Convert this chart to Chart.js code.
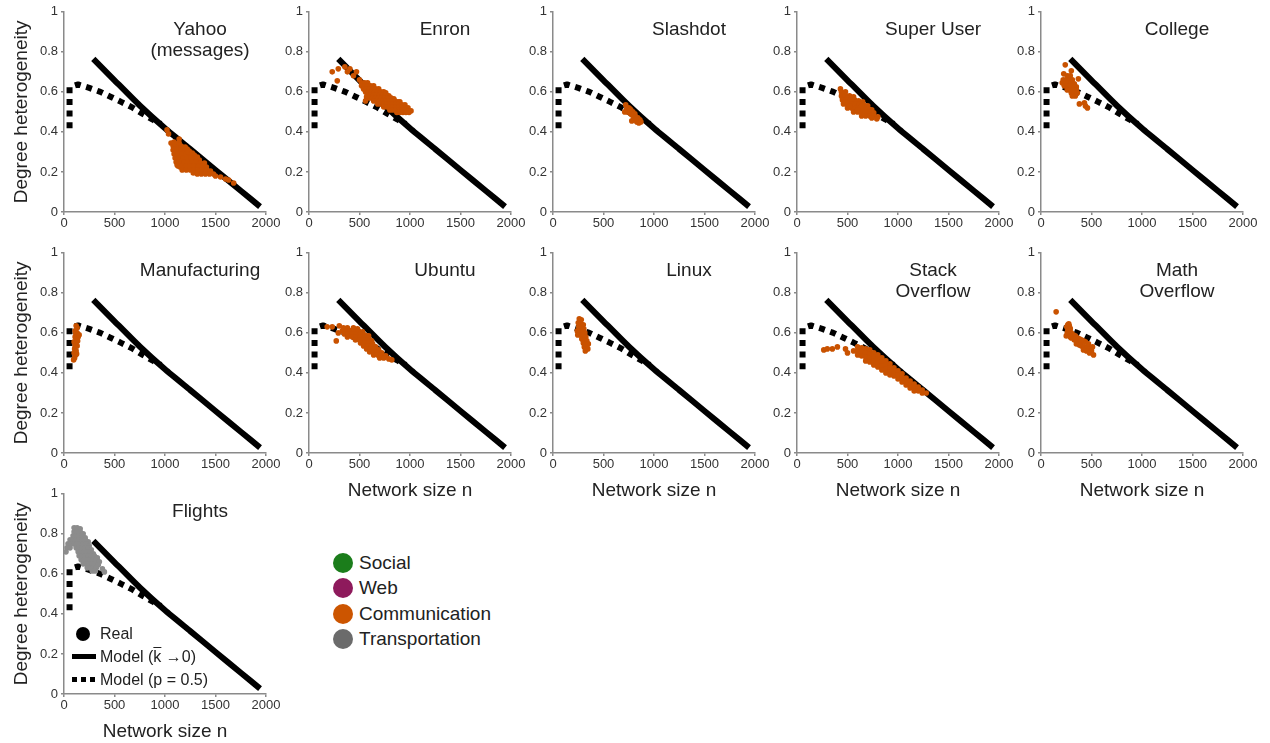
<!DOCTYPE html>
<html>
<head>
<meta charset="utf-8">
<script src="https://cdn.jsdelivr.net/npm/chart.js@4.4.0/dist/chart.umd.min.js"></script>
<style>
  body { margin: 0; background: #fff; width: 1270px; height: 743px; position: relative; overflow: hidden;
         font-family: "Liberation Sans", Arial, sans-serif; color: #222; }
  canvas { position: absolute; }
  .lg { position: absolute; white-space: nowrap; }
  .dot { position: absolute; border-radius: 50%; }
</style>
</head>
<body>
<script>
// ticks
const xTicks = [0, 500, 1000, 1500, 2000];
const yTicks = [0, 0.2, 0.4, 0.6, 0.8, 1];

// model curves [n, heterogeneity]
const modelFlat = [[290,0.765],[500,0.658],[750,0.532],[1000,0.418],[1250,0.314],[1500,0.21],[1750,0.106],[1941,0.027]];
const modelHalf = [[55,0.418],[55,0.6235],[140,0.637],[250,0.62],[360,0.6],[460,0.576],[570,0.549],[680,0.521],[780,0.49],[880,0.461],[960,0.44]];

// real networks
const yahoo = [
  [1020,0.41],[1035,0.39],[1140,0.365],[1090,0.35],[1060,0.345],
  [1080,0.33],[1120,0.33],[1160,0.33],[1200,0.325],[1100,0.34],[1140,0.345],
  [1080,0.31],[1120,0.31],[1160,0.31],[1200,0.31],[1240,0.305],[1180,0.32],[1220,0.315],
  [1090,0.29],[1130,0.29],[1170,0.29],[1210,0.29],[1250,0.29],[1290,0.285],[1230,0.30],[1270,0.295],
  [1100,0.27],[1140,0.27],[1180,0.27],[1220,0.27],[1260,0.27],[1300,0.265],[1340,0.26],[1320,0.275],
  [1110,0.25],[1150,0.25],[1190,0.25],[1230,0.25],[1270,0.25],[1310,0.25],[1350,0.245],[1390,0.245],
  [1130,0.23],[1170,0.23],[1210,0.23],[1250,0.23],[1290,0.23],[1330,0.23],[1370,0.23],[1410,0.225],
  [1120,0.235],[1150,0.225],[1170,0.21],[1210,0.21],[1250,0.21],[1290,0.21],[1330,0.21],[1370,0.21],[1410,0.21],[1450,0.205],
  [1280,0.195],[1320,0.19],[1360,0.19],[1400,0.19],[1440,0.19],[1480,0.19],
  [1500,0.18],[1550,0.175],[1600,0.165],[1630,0.16],[1680,0.145]
];
const enron = [
  [230,0.70],[290,0.715],[355,0.725],[405,0.715],[280,0.655],[440,0.68],[470,0.70],[500,0.66],[380,0.70],
  [520,0.645],[550,0.645],[580,0.645],
  [520,0.63],[550,0.63],[580,0.63],[610,0.63],[640,0.63],
  [540,0.615],[570,0.615],[600,0.615],[630,0.615],[660,0.615],[690,0.615],
  [560,0.60],[590,0.60],[620,0.60],[650,0.60],[680,0.60],[710,0.60],[740,0.60],[760,0.595],
  [580,0.585],[610,0.585],[640,0.585],[670,0.585],[700,0.585],[730,0.585],[760,0.585],[790,0.58],
  [600,0.57],[630,0.57],[660,0.57],[690,0.57],[720,0.57],[750,0.57],[780,0.57],[810,0.57],[840,0.565],
  [640,0.555],[670,0.555],[700,0.555],[730,0.555],[760,0.555],[790,0.555],[820,0.555],[850,0.555],[880,0.55],[900,0.55],
  [680,0.54],[710,0.54],[740,0.54],[770,0.54],[800,0.54],[830,0.54],[860,0.54],[890,0.54],[920,0.535],[950,0.535],
  [740,0.525],[770,0.525],[800,0.525],[830,0.525],[860,0.525],[890,0.525],[920,0.525],[950,0.52],[980,0.52],
  [800,0.51],[830,0.51],[860,0.51],[890,0.51],[920,0.51],[950,0.51],[980,0.505],[1010,0.505],
  [870,0.497],[900,0.497],[930,0.497],[960,0.497],[990,0.497],[570,0.575],[560,0.555]
];
const slashdot = [
  [720,0.535],[730,0.515],[750,0.52],[770,0.51],[790,0.50],[810,0.49],[740,0.50],[760,0.495],
  [780,0.485],[800,0.48],[820,0.475],[840,0.47],[860,0.46],[850,0.445],[830,0.45],[870,0.45],
  [710,0.50],[800,0.465],[780,0.455],[760,0.515],[820,0.46]
];
const superUser = [
  [430,0.615],[440,0.60],[480,0.60],[460,0.59],
  [440,0.58],[480,0.58],[520,0.58],[560,0.575],[500,0.57],[540,0.57],
  [450,0.56],[490,0.56],[530,0.56],[570,0.56],[610,0.555],[650,0.55],[590,0.55],
  [460,0.54],[500,0.54],[540,0.54],[580,0.54],[620,0.54],[660,0.535],[700,0.53],[480,0.55],
  [500,0.52],[540,0.52],[580,0.52],[620,0.52],[660,0.52],[700,0.515],[740,0.51],[520,0.53],[640,0.53],
  [560,0.50],[600,0.50],[640,0.50],[680,0.50],[720,0.50],[760,0.495],[600,0.51],[700,0.49],
  [640,0.48],[680,0.48],[720,0.48],[760,0.48],[800,0.475],[740,0.47],[790,0.465]
];
const college = [
  [240,0.735],[300,0.705],[225,0.69],[370,0.665],[380,0.54],[430,0.545],[460,0.52],[440,0.53],
  [260,0.68],[290,0.68],
  [220,0.66],[250,0.66],[280,0.66],[310,0.66],
  [210,0.645],[240,0.645],[270,0.645],[300,0.645],[330,0.64],
  [230,0.63],[260,0.63],[290,0.63],[320,0.63],[350,0.625],
  [260,0.61],[290,0.61],[320,0.61],[350,0.61],
  [300,0.595],[330,0.595],[360,0.595],[310,0.58],[340,0.58]
];
const manufacturing = [
  [120,0.635],[130,0.625],[110,0.61],[130,0.60],[140,0.59],[110,0.58],[125,0.57],[100,0.555],
  [120,0.55],[130,0.535],[105,0.52],[120,0.51],[100,0.50],[115,0.49],[105,0.475],[95,0.465],
  [140,0.58],[115,0.60],[135,0.56],[110,0.535],[125,0.495],[150,0.59]
];
const ubuntu = [
  [180,0.63],[230,0.63],[300,0.635],[290,0.60],[270,0.56],[380,0.58],[420,0.59],
  [340,0.625],[380,0.625],[440,0.625],[480,0.62],
  [330,0.61],[370,0.61],[410,0.61],[450,0.61],[490,0.61],[530,0.605],
  [350,0.595],[390,0.595],[430,0.595],[470,0.595],[510,0.595],[550,0.59],[590,0.585],
  [430,0.58],[470,0.58],[510,0.58],[550,0.58],[590,0.575],
  [460,0.565],[500,0.565],[540,0.565],[580,0.565],[620,0.56],
  [510,0.55],[550,0.55],[590,0.55],[630,0.545],
  [540,0.535],[580,0.535],[620,0.535],[660,0.53],
  [570,0.52],[610,0.52],[650,0.52],[690,0.515],
  [600,0.505],[640,0.505],[680,0.505],[720,0.50],
  [640,0.49],[680,0.49],[720,0.49],[760,0.485],
  [700,0.475],[740,0.475],[790,0.47],[820,0.465]
];
const linux = [
  [260,0.67],[280,0.665],[250,0.65],[275,0.645],[300,0.64],[255,0.63],[280,0.625],[305,0.62],
  [265,0.61],[290,0.605],[315,0.60],[275,0.59],[300,0.585],[325,0.58],[285,0.57],[310,0.565],
  [335,0.56],[300,0.55],[325,0.545],[350,0.545],[310,0.53],[335,0.525],[320,0.51],[345,0.52],
  [240,0.61],[245,0.59]
];
const stackOverflow = [
  [265,0.515],[300,0.52],[350,0.52],[400,0.53],[480,0.52],[500,0.50],[560,0.51],
  [600,0.53],[600,0.51],[600,0.49],
  [640,0.525],[640,0.505],[640,0.485],
  [680,0.52],[680,0.50],[680,0.48],[680,0.46],
  [720,0.515],[720,0.495],[720,0.475],[720,0.455],
  [760,0.50],[760,0.48],[760,0.46],[760,0.44],
  [800,0.49],[800,0.47],[800,0.45],[800,0.43],
  [840,0.475],[840,0.455],[840,0.435],[840,0.415],
  [880,0.46],[880,0.44],[880,0.42],[880,0.40],
  [920,0.445],[920,0.425],[920,0.405],[920,0.39],
  [960,0.425],[960,0.405],[960,0.385],
  [1000,0.41],[1000,0.39],[1000,0.37],
  [1040,0.395],[1040,0.375],[1040,0.355],
  [1080,0.375],[1080,0.355],[1080,0.34],
  [1120,0.36],[1120,0.34],[1120,0.325],
  [1160,0.345],[1160,0.325],[1160,0.31],
  [1200,0.33],[1200,0.31],[1240,0.315],[1240,0.30],[1280,0.30]
];
const mathOverflow = [
  [150,0.705],[250,0.585],[265,0.64],[280,0.635],[270,0.62],[290,0.62],[260,0.60],[300,0.60],
  [255,0.63],[275,0.645],[285,0.625],[265,0.61],
  [320,0.59],[340,0.585],[360,0.575],[380,0.57],[300,0.575],[330,0.565],[360,0.555],[390,0.55],
  [420,0.56],[440,0.555],[400,0.535],[430,0.53],[460,0.53],[480,0.52],[500,0.51],[450,0.51],
  [480,0.50],[520,0.49],[420,0.515],[350,0.545],[290,0.58],[470,0.545],[510,0.53],[380,0.54],[400,0.565]
];
const flights = [
  [100,0.83],[130,0.83],[160,0.825],
  [100,0.81],[130,0.81],[160,0.81],[190,0.80],
  [90,0.79],[120,0.79],[150,0.79],[180,0.79],[210,0.78],
  [60,0.77],[90,0.77],[120,0.77],[150,0.77],[180,0.77],[210,0.77],[240,0.76],
  [40,0.75],[70,0.75],[100,0.75],[130,0.75],[160,0.75],[190,0.75],[220,0.75],[250,0.74],
  [30,0.73],[60,0.73],[120,0.73],[150,0.73],[180,0.73],[210,0.73],[240,0.73],[270,0.72],
  [20,0.71],[140,0.71],[170,0.71],[200,0.71],[230,0.71],[260,0.71],[290,0.70],
  [150,0.69],[180,0.69],[210,0.69],[240,0.69],[270,0.69],[300,0.69],[330,0.68],
  [170,0.67],[200,0.67],[230,0.67],[260,0.67],[290,0.67],[320,0.67],[350,0.66],
  [190,0.65],[220,0.65],[250,0.65],[280,0.65],[310,0.65],[340,0.645],
  [230,0.63],[260,0.63],[290,0.63],[320,0.63],[380,0.625],[280,0.615],[310,0.615],[400,0.61]
];

const categories = ['Social', 'Web', 'Communication', 'Transportation'];
const categoryColors = ['#1b7d1b', '#8e1a5c', '#cc5500', '#6b6b6b'];

const COMM = '#c95200';
const TRANS = '#8c8c8c';

const panels = [
  { title: ['Yahoo', '(messages)'], pts: yahoo, color: COMM },
  { title: ['Enron'], pts: enron, color: COMM },
  { title: ['Slashdot'], pts: slashdot, color: COMM },
  { title: ['Super User'], pts: superUser, color: COMM },
  { title: ['College'], pts: college, color: COMM },
  { title: ['Manufacturing'], pts: manufacturing, color: COMM },
  { title: ['Ubuntu'], pts: ubuntu, color: COMM },
  { title: ['Linux'], pts: linux, color: COMM },
  { title: ['Stack', 'Overflow'], pts: stackOverflow, color: COMM },
  { title: ['Math', 'Overflow'], pts: mathOverflow, color: COMM },
  { title: ['Flights'], pts: flights, color: TRANS },
];

const colX = [64, 309, 553, 797, 1041];
const rowTop = [11, 252, 493];
const PLOT_W = 202, PLOT_H = 201;
const FONT = '"Liberation Sans", Arial, sans-serif';

const toXY = arr => arr.map(([x, y]) => ({ x, y }));

const panelTitle = {
  id: 'panelTitle',
  afterDraw(chart, args, opts) {
    const { ctx, chartArea } = chart;
    ctx.save();
    ctx.font = '19px ' + FONT;
    ctx.fillStyle = '#222';
    ctx.textAlign = 'center';
    ctx.textBaseline = 'middle';
    opts.lines.forEach((t, i) => ctx.fillText(t, chartArea.left + 136, chartArea.top + 18 + i * 21));
    ctx.restore();
  }
};

panels.forEach((p, idx) => {
  const col = idx % 5, row = Math.floor(idx / 5);
  const ax = colX[col], top = rowTop[row];
  const yW = col === 0 ? ax : 40;
  const showX = (row === 1 && col > 0) || row === 2;
  const canvas = document.createElement('canvas');
  canvas.width = yW + PLOT_W + 24;
  canvas.height = 10 + PLOT_H + 49;
  canvas.style.left = (ax - yW) + 'px';
  canvas.style.top = (top - 10) + 'px';
  document.body.appendChild(canvas);

  new Chart(canvas.getContext('2d'), {
    data: {
      datasets: [
        { type: 'scatter', data: toXY(p.pts), backgroundColor: p.color, pointRadius: 2.8, pointBorderWidth: 0, order: 0 },
        { type: 'line', data: toXY(modelFlat), borderColor: '#000', borderWidth: 6, pointRadius: 0, tension: 0.2, borderCapStyle: 'butt', order: 1 },
        { type: 'line', data: toXY(modelHalf), borderColor: '#000', borderWidth: 6, pointRadius: 0, tension: 0, borderDash: [6, 5.7], borderCapStyle: 'butt', borderJoinStyle: 'bevel', order: 2 },
      ],
    },
    options: {
      responsive: false,
      animation: false,
      events: [],
      layout: { autoPadding: false, padding: { top: 10, left: 0, right: 24, bottom: 0 } },
      plugins: { legend: { display: false }, tooltip: { enabled: false }, panelTitle: { lines: p.title } },
      scales: {
        x: {
          type: 'linear', min: 0, max: 2000,
          afterBuildTicks: s => { s.ticks = xTicks.map(v => ({ value: v })); },
          afterFit: s => { s.height = 49; },
          ticks: { callback: v => String(v), font: { family: FONT, size: 13 }, color: '#333', padding: 1, maxRotation: 0, autoSkip: false },
          grid: { drawOnChartArea: false, tickLength: 3, color: '#8a8a8a', lineWidth: 1.5 },
          border: { color: '#8a8a8a', width: 1.5 },
          title: { display: showX, text: 'Network size n', font: { family: FONT, size: 19 }, color: '#222', padding: { top: 0, bottom: 0 } },
        },
        y: {
          type: 'linear', min: 0, max: 1,
          afterBuildTicks: s => { s.ticks = yTicks.map(v => ({ value: v })); },
          afterFit: s => { s.width = yW; },
          ticks: { callback: v => String(+v.toFixed(1)), font: { family: FONT, size: 13 }, color: '#333', padding: 3 },
          grid: { drawOnChartArea: false, tickLength: 3, color: '#8a8a8a', lineWidth: 1.5 },
          border: { color: '#8a8a8a', width: 1.5 },
          title: { display: col === 0, text: 'Degree heterogeneity', font: { family: FONT, size: 19 }, color: '#222', padding: { top: 10, bottom: 0 } },
        },
      },
    },
    plugins: [panelTitle],
  });
});

// category legend
categories.forEach((c, i) => {
  const cy = 563 + i * 25.3;
  const d = document.createElement('div');
  d.className = 'dot';
  Object.assign(d.style, { left: '333px', top: (cy - 10) + 'px', width: '20px', height: '20px', background: categoryColors[i] });
  document.body.appendChild(d);
  const t = document.createElement('div');
  t.className = 'lg';
  Object.assign(t.style, { left: '359px', top: (cy - 11) + 'px', fontSize: '19px', lineHeight: '22px' });
  t.textContent = c;
  document.body.appendChild(t);
});
</script>

<!-- model legend inside the Flights panel -->
<div class="dot" style="left:76px;top:627px;width:14px;height:14px;background:#000"></div>
<div class="lg" style="left:100px;top:624px;font-size:16px;line-height:19px">Real</div>
<div class="lg" style="left:72px;top:654px;width:24px;height:5px;background:#000"></div>
<div class="lg" style="left:100px;top:647px;font-size:16px;line-height:19px">Model (<span style="text-decoration:overline">k</span> &#8594;0)</div>
<div class="lg" style="left:72px;top:677px;width:24px;height:5px;background:repeating-linear-gradient(to right,#000 0 5px,transparent 5px 9px)"></div>
<div class="lg" style="left:100px;top:670px;font-size:16px;line-height:19px">Model (p = 0.5)</div>
</body>
</html>
